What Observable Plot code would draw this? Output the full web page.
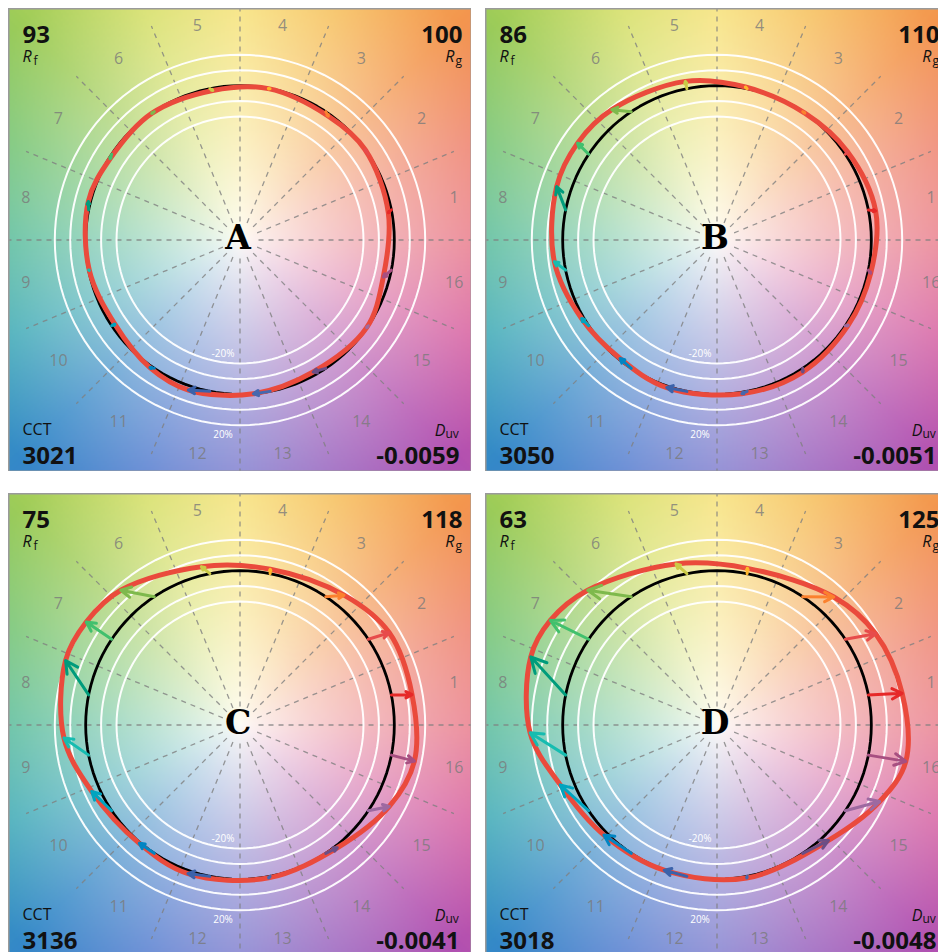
<!DOCTYPE html>
<html><head><meta charset="utf-8">
<script src="https://cdn.jsdelivr.net/npm/d3@7"></script>
<script src="https://cdn.jsdelivr.net/npm/@observablehq/plot@0.6"></script>
<style>
html,body{margin:0;padding:0;background:#fff;overflow:hidden;width:938px;height:952px;}
#wrap{position:relative;width:938px;height:952px;overflow:hidden;}
.panel{position:absolute;width:463px;height:463px;}
.panel svg{max-width:none !important;width:463px;height:463px;}
</style></head><body><div id="wrap"></div>
<script>
// ---------- data ----------
const panelLetters = ["A", "B", "C", "D"];
const rfValues = ["93", "86", "75", "63"];
const rgValues = ["100", "110", "118", "125"];
const cctValues = ["3021", "3050", "3136", "3018"];
const duvValues = ["-0.0059", "-0.0051", "-0.0041", "-0.0048"];

const binLabels = ["1","2","3","4","5","6","7","8","9","10","11","12","13","14","15","16"];
const binAngles = [11.25, 33.75, 56.25, 78.75, 101.25, 123.75, 146.25, 168.75,
                   191.25, 213.75, 236.25, 258.75, 281.25, 303.75, 326.25, 348.75];
const binColors = ["#e62828","#e74b4b","#fb812e","#ffb529","#cbca46","#7eb94c","#41c06d","#009c7c",
                   "#16bcb0","#00a4bf","#0085c3","#3b62aa","#4568ae","#6a4e85","#9d69a1","#a74f81"];

// test-source vertex per hue bin: relative radius (reference = 1) and hue angle (deg)
const testRadiusA = [0.977, 1.000, 0.986, 0.998, 0.985, 1.000, 0.993, 1.014, 0.996, 0.977, 1.012, 1.028, 1.000, 0.978, 0.998, 0.959];
const testAngleA  = [10.4, 35.9, 54.5, 79.4, 100.3, 124.9, 148.0, 165.8, 191.4, 214.0, 234.8, 251.0, 275.0, 299.0, 325.3, 345.5];
const testRadiusB = [1.045, 1.021, 1.000, 1.008, 1.048, 1.085, 1.100, 1.095, 1.063, 1.014, 0.992, 1.010, 1.009, 1.020, 1.014, 1.019];
const testAngleB  = [10.4, 34.2, 55.3, 79.5, 101.3, 128.9, 145.2, 161.6, 187.6, 210.1, 230.7, 251.2, 279.2, 303.0, 327.0, 347.8];
const testRadiusC = [1.132, 1.137, 1.078, 1.028, 1.056, 1.166, 1.199, 1.205, 1.144, 1.053, 1.007, 1.020, 1.008, 1.015, 1.102, 1.154];
const testAngleC  = [10.0, 31.7, 51.3, 79.0, 103.7, 131.5, 146.2, 159.7, 184.2, 204.1, 229.6, 250.7, 280.6, 308.4, 331.4, 348.3];
const testRadiusD = [1.217, 1.186, 1.123, 1.034, 1.077, 1.210, 1.275, 1.285, 1.212, 1.087, 1.022, 1.001, 1.010, 1.040, 1.165, 1.246];
const testAngleD  = [9.7, 29.9, 47.6, 79.0, 104.3, 133.8, 147.9, 159.9, 182.4, 200.9, 224.2, 250.0, 281.0, 314.0, 334.8, 349.1];

const ringRadii = [0.8, 0.9, 1.1, 1.2];
const ringLabels = ["-20%", "20%"];

const testRadius = [testRadiusA, testRadiusB, testRadiusC, testRadiusD];
const testAngle = [testAngleA, testAngleB, testAngleC, testAngleD];

// ---------- styling helpers ----------
const PW = 463, LIM = 1.5;
const panelPos = [[8, 8], [485, 8], [8, 493], [485, 493]];
const hueStops = [
  [0,[232,118,135]],[22.5,[238,128,108]],[45,[243,150,78]],[67.5,[246,190,88]],[90,[246,224,112]],
  [112.5,[212,222,98]],[135,[158,204,88]],[157.5,[112,194,112]],[180,[78,184,150]],[202.5,[58,168,182]],
  [225,[52,136,200]],[247.5,[82,124,208]],[270,[122,120,206]],[292.5,[152,96,190]],[315,[178,80,176]],
  [337.5,[214,94,160]],[360,[232,118,135]]];
const lut = [];
for (let d = 0; d <= 360; d++) {
  let j = 0;
  while (j < hueStops.length - 2 && hueStops[j + 1][0] < d) j++;
  const [a0, c0] = hueStops[j], [a1, c1] = hueStops[j + 1];
  const f = (d - a0) / (a1 - a0);
  lut.push(c0.map((v, k) => v + (c1[k] - v) * f));
}
function bgColor(x, y) {
  const r = Math.hypot(x, y);
  let d = Math.atan2(y, x) * 180 / Math.PI; if (d < 0) d += 360;
  const c = lut[Math.round(d)];
  const t = Math.pow(Math.min(1, r / 2.0), 0.8);
  const w = [254, 253, 248];
  return `rgb(${Math.round(w[0] + (c[0] - w[0]) * t)},${Math.round(w[1] + (c[1] - w[1]) * t)},${Math.round(w[2] + (c[2] - w[2]) * t)})`;
}
const rad = d => d * Math.PI / 180;
function circlePts(r) {
  return d3.range(0, 360, 3).map(a => ({r, x: r * Math.cos(rad(a)), y: r * Math.sin(rad(a))}));
}

const wrap = document.getElementById("wrap");
panelLetters.forEach((letter, k) => {
  const vectors = binLabels.map((b, i) => ({
    bin: b, color: binColors[i],
    x1: Math.cos(rad(binAngles[i])), y1: Math.sin(rad(binAngles[i])),
    x2: testRadius[k][i] * Math.cos(rad(testAngle[k][i])),
    y2: testRadius[k][i] * Math.sin(rad(testAngle[k][i]))
  }));
  const spokes = d3.range(16).map(i => i * 22.5);
  const rings = ringRadii.flatMap(circlePts);
  const font = "Open Sans";
  const plot = Plot.plot({
    width: PW, height: PW, margin: 0,
    x: {domain: [-LIM, LIM], axis: null},
    y: {domain: [-LIM, LIM], axis: null},
    color: {type: "identity"},
    style: {background: "transparent", maxWidth: "none"},
    marks: [
      Plot.raster({fill: bgColor, x1: -LIM, x2: LIM, y1: -LIM, y2: LIM, pixelSize: 2}),
      Plot.link(spokes, {
        x1: a => 0.12 * Math.cos(rad(a)), y1: a => 0.12 * Math.sin(rad(a)),
        x2: a => LIM * Math.cos(rad(a)), y2: a => LIM * Math.sin(rad(a)),
        stroke: "#808080", strokeWidth: 1.3, strokeDasharray: "5,5", strokeOpacity: 0.8
      }),
      Plot.line(rings, {x: "x", y: "y", z: "r", curve: "linear-closed", stroke: "white", strokeWidth: 2, strokeOpacity: 0.95}),
      Plot.line(circlePts(1), {x: "x", y: "y", curve: "linear-closed", stroke: "#000", strokeWidth: 2.8}),
      Plot.line(vectors, {x: "x2", y: "y2", curve: "catmull-rom-closed", stroke: "#ea4a3c", strokeWidth: 5}),
      Plot.arrow(vectors, {x1: "x1", y1: "y1", x2: "x2", y2: "y2", stroke: "color", strokeWidth: 3, headLength: 10, headAngle: 55}),
      Plot.text(binLabels, {
        x: (b, i) => 1.415 * Math.cos(rad(binAngles[i])), y: (b, i) => 1.415 * Math.sin(rad(binAngles[i])),
        text: d => d, fontSize: 16, fontFamily: font, fill: "#7a7a7a", fillOpacity: 0.8
      }),
      Plot.text(ringLabels, {
        x: [-0.11, -0.11], y: [-(ringRadii[0] - 0.06), -(ringRadii[3] + 0.06)],
        text: d => d, fontSize: 10, fontFamily: font, fill: "white"
      }),
      Plot.text([letter], {x: [0], y: [0], text: d => d, dx: -2, dy: -2, fontSize: 33, fontWeight: 900,
        fontFamily: "DejaVu Serif", fill: "#000"}),
      // corner annotations
      Plot.text([rfValues[k]], {frameAnchor: "top-left", text: d => d, textAnchor: "start", lineAnchor: "bottom",
        dx: 14, dy: 34, fontSize: 24, fontWeight: 700, fontFamily: font, fill: "#111"}),
      Plot.text(["R"], {frameAnchor: "top-left", text: d => d, textAnchor: "start", lineAnchor: "bottom",
        dx: 14, dy: 53, fontSize: 16, fontStyle: "italic", fontFamily: font, fill: "#111"}),
      Plot.text(["f"], {frameAnchor: "top-left", text: d => d, textAnchor: "start", lineAnchor: "bottom",
        dx: 25, dy: 56, fontSize: 12, fontFamily: font, fill: "#111"}),
      Plot.text([rgValues[k]], {frameAnchor: "top-right", text: d => d, textAnchor: "end", lineAnchor: "bottom",
        dx: -9, dy: 34, fontSize: 24, fontWeight: 700, fontFamily: font, fill: "#111"}),
      Plot.text(["R"], {frameAnchor: "top-right", text: d => d, textAnchor: "end", lineAnchor: "bottom",
        dx: -17, dy: 53, fontSize: 16, fontStyle: "italic", fontFamily: font, fill: "#111"}),
      Plot.text(["g"], {frameAnchor: "top-right", text: d => d, textAnchor: "start", lineAnchor: "bottom",
        dx: -16, dy: 56, fontSize: 12, fontFamily: font, fill: "#111"}),
      Plot.text(["CCT"], {frameAnchor: "bottom-left", text: d => d, textAnchor: "start", lineAnchor: "bottom",
        dx: 14, dy: -37, fontSize: 16, fontFamily: font, fill: "#111"}),
      Plot.text([cctValues[k]], {frameAnchor: "bottom-left", text: d => d, textAnchor: "start", lineAnchor: "bottom",
        dx: 14, dy: -8, fontSize: 24, fontWeight: 700, fontFamily: font, fill: "#111"}),
      Plot.text(["D"], {frameAnchor: "bottom-right", text: d => d, textAnchor: "end", lineAnchor: "bottom",
        dx: -26, dy: -36, fontSize: 16, fontStyle: "italic", fontFamily: font, fill: "#111"}),
      Plot.text(["uv"], {frameAnchor: "bottom-right", text: d => d, textAnchor: "start", lineAnchor: "bottom",
        dx: -26, dy: -34, fontSize: 12, fontFamily: font, fill: "#111"}),
      Plot.text([duvValues[k]], {frameAnchor: "bottom-right", text: d => d, textAnchor: "end", lineAnchor: "bottom",
        dx: -12, dy: -8, fontSize: 24, fontWeight: 700, fontFamily: font, fill: "#111"}),
      Plot.frame({stroke: "#9a9a9a", strokeWidth: 2})
    ]
  });
  const div = document.createElement("div");
  div.className = "panel";
  div.style.left = panelPos[k][0] + "px";
  div.style.top = panelPos[k][1] + "px";
  div.appendChild(plot);
  wrap.appendChild(div);
});
</script></body></html>
